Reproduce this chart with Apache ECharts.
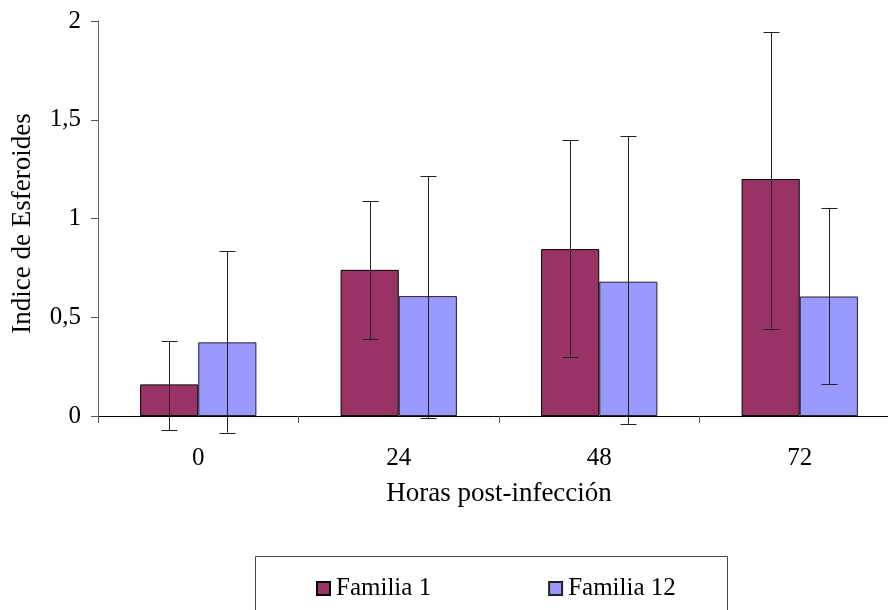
<!DOCTYPE html>
<html>
<head>
<meta charset="utf-8">
<script src="https://cdn.jsdelivr.net/npm/echarts@6/dist/echarts.min.js"></script>
<style>html,body{margin:0;padding:0;background:#fff;}#c{width:888px;height:610px;}</style>
</head>
<body>
<div id="c"></div>
<script>
const categories = ['0', '24', '48', '72'];
const fam1 = [0.16, 0.74, 0.845, 1.20];
const fam1High = [0.38, 1.088, 1.398, 1.942];
const fam1Low = [-0.071, 0.389, 0.300, 0.442];
const fam12 = [0.373, 0.607, 0.680, 0.605];
const fam12High = [0.834, 1.215, 1.417, 1.054];
const fam12Low = [-0.084, -0.012, -0.040, 0.160];
const yTicks = [0, 0.5, 1, 1.5, 2];

const FONT = '"Liberation Serif", "Times New Roman", serif';

function errData(low, high) {
  return categories.map((c, i) => [i, low[i], high[i]]);
}
function errRenderer(side) {
  return function (params, api) {
    const idx = api.value(0);
    const top = api.coord([idx, api.value(2)]);
    const bot = api.coord([idx, api.value(1)]);
    const bw = api.size([1, 0])[0] * 0.29;
    const x = Math.round(top[0] + side * bw / 2) + 0.5;
    const cap = 8;
    const style = { stroke: '#222', lineWidth: 1 };
    return {
      type: 'group',
      children: [
        { type: 'line', shape: { x1: x, y1: top[1], x2: x, y2: bot[1] }, style },
        { type: 'line', shape: { x1: x - cap, y1: Math.round(top[1]) + 0.5, x2: x + cap, y2: Math.round(top[1]) + 0.5 }, style },
        { type: 'line', shape: { x1: x - cap, y1: Math.round(bot[1]) + 0.5, x2: x + cap, y2: Math.round(bot[1]) + 0.5 }, style }
      ]
    };
  };
}

const chart = echarts.init(document.getElementById('c'), null, { renderer: 'canvas' });
chart.setOption({
  animation: false,
  backgroundColor: '#fff',
  textStyle: { fontFamily: FONT },
  grid: { left: 98, top: 21, width: 802, height: 395, containLabel: false, outerBoundsMode: 'none' },
  xAxis: {
    type: 'category',
    data: categories,
    boundaryGap: true,
    name: 'Horas post-infección',
    nameLocation: 'middle',
    nameGap: 64,
    nameTextStyle: { fontFamily: FONT, fontSize: 27, color: '#000' },
    axisLine: { lineStyle: { color: '#000', width: 1 } },
    axisTick: { show: true, alignWithLabel: false, length: 7, inside: false, lineStyle: { color: '#555' } },
    axisLabel: { fontFamily: FONT, fontSize: 25, color: '#000', margin: 30 }
  },
  yAxis: {
    type: 'value',
    min: 0,
    max: 2,
    interval: 0.5,
    name: 'Indice de Esferoides',
    nameLocation: 'middle',
    nameGap: 62,
    nameTextStyle: { fontFamily: FONT, fontSize: 27, color: '#000', padding: [0, 10, 0, 0] },
    axisLine: { show: true, lineStyle: { color: '#666', width: 1 } },
    axisTick: { show: true, length: 7, lineStyle: { color: '#555' } },
    splitLine: { show: false },
    axisLabel: {
      fontFamily: FONT, fontSize: 25, color: '#000', margin: 17,
      formatter: v => {
        const t = yTicks.find(k => Math.abs(k - v) < 1e-9);
        return String(t !== undefined ? t : v).replace('.', ',');
      }
    }
  },
  legend: {
    data: ['Familia 1', 'Familia 12'],
    left: 311,
    top: 571,
    icon: 'rect',
    itemWidth: 13,
    itemHeight: 13,
    itemGap: 117,
    textStyle: { fontFamily: FONT, fontSize: 25, color: '#000', padding: [0, 0, 0, 1] }
  },
  graphic: [{
    type: 'rect',
    shape: { x: 255.5, y: 556.5, width: 472, height: 70 },
    style: { fill: 'none', stroke: '#444', lineWidth: 1 },
    silent: true,
    z: -1
  }],
  series: [
    {
      name: 'Familia 1', type: 'bar', data: fam1,
      barGap: '0%', barCategoryGap: '42%',
      itemStyle: { color: '#993366', borderColor: '#000', borderWidth: 1 }
    },
    {
      name: 'Familia 12', type: 'bar', data: fam12,
      barGap: '0%', barCategoryGap: '42%',
      itemStyle: { color: '#9999FF', borderColor: '#222', borderWidth: 1 }
    },
    {
      name: 'err1', type: 'custom', renderItem: errRenderer(-1),
      data: errData(fam1Low, fam1High), z: 10,
      encode: { x: 0, y: [1, 2] }
    },
    {
      name: 'err12', type: 'custom', renderItem: errRenderer(1),
      data: errData(fam12Low, fam12High), z: 10,
      encode: { x: 0, y: [1, 2] }
    }
  ]
});
</script>
</body>
</html>
